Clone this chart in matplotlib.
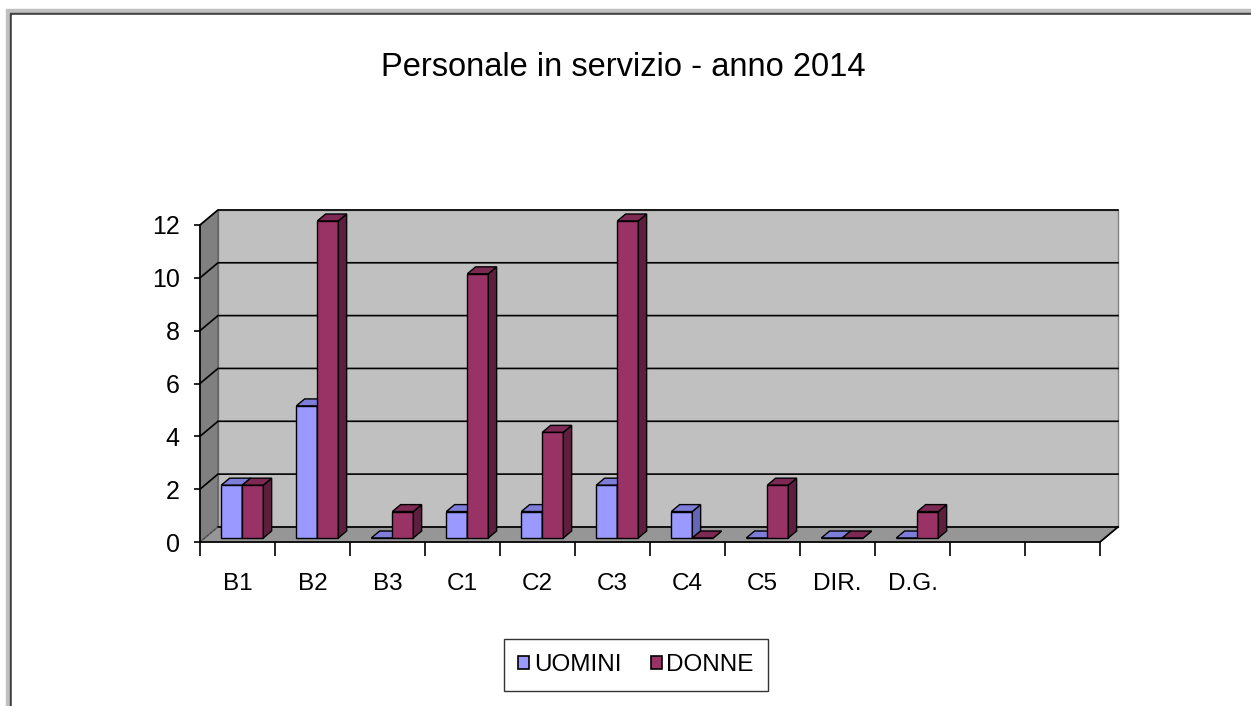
import matplotlib
matplotlib.use("Agg")
import matplotlib.pyplot as plt
from matplotlib.patches import Polygon, Rectangle, Patch
import numpy as np

plt.rcParams['font.family'] = ['Liberation Sans', 'DejaVu Sans']

categorie = ['B1', 'B2', 'B3', 'C1', 'C2', 'C3', 'C4', 'C5', 'DIR.', 'D.G.', '', '']
uomini = [2, 5, 0, 1, 1, 2, 1, 0, 0, 0, None, None]
donne = [2, 12, 1, 10, 4, 12, 0, 2, 0, 1, None, None]
y_ticks = [0, 2, 4, 6, 8, 10, 12]
titolo = 'Personale in servizio - anno 2014'

# colori: fronte, cima, lato
col_u = ('#9999FF', '#7E7EDA', '#6666B8')
col_d = ('#993366', '#7D2953', '#5E1F3F')

W, H = 1251, 706
fig = plt.figure(figsize=(W / 100, H / 100), dpi=100)

# cornice
fig.patches.append(Rectangle((6 / W, 0), 1, 1 - 9 / H, transform=fig.transFigure,
                             color='#C0C0C0', zorder=-10))
fig.patches.append(Rectangle((10 / W, 0), 1, 1 - 13 / H, transform=fig.transFigure,
                             color='#404040', zorder=-9))
fig.patches.append(Rectangle((12 / W, 0), 1, 1 - 15 / H, transform=fig.transFigure,
                             color='white', zorder=-8))

ax = fig.add_axes([200 / W, 1 - 542 / H, 900 / W, 317 / H])
ax.patch.set_visible(False)
n = len(categorie)
ymax = 12
ax.set_xlim(0, n)
ax.set_ylim(0, ymax)

# profondita' 3D (unita' dati)
dx, dy = 0.24, 0.57

def poly(pts, fc, ec='black', lw=1.0, z=1, ls='-'):
    ax.add_patch(Polygon(pts, closed=True, facecolor=fc, edgecolor=ec, linewidth=lw,
                         zorder=z, clip_on=False, linestyle=ls))

# pareti
poly([(dx, dy), (n + dx, dy), (n + dx, ymax + dy), (dx, ymax + dy)], '#C0C0C0', ec='#808080', z=0)
poly([(0, 0), (dx, dy), (dx, ymax + dy), (0, ymax)], '#808080', ec='#606060', z=0)
poly([(0, 0), (n, 0), (n + dx, dy), (dx, dy)], '#969696', ec='#606060', z=0)

for v in y_ticks:
    if v == 0:
        ax.plot([dx, n + dx], [dy, dy], color='black', lw=1.2, zorder=0.5, clip_on=False)
        ax.plot([0, dx], [0, dy], color='#404040', lw=0.8, ls=(0, (2, 2)), zorder=0.5, clip_on=False)
        continue
    ax.plot([0, dx, n + dx], [v, v + dy, v + dy], color='black', lw=1.2, zorder=0.5, clip_on=False)
ax.plot([n, n + dx], [0, dy], color='black', lw=1.2, zorder=0.5, clip_on=False)

# barre 3D
bw = 0.28
f0, f1 = 0.27, 0.73
bdx, bdy = (f1 - f0) * dx, (f1 - f0) * dy

def barra(x0, h, cols):
    x = x0 + f0 * dx
    y = f0 * dy
    poly([(x, y), (x + bw, y), (x + bw, y + h), (x, y + h)], cols[0], z=2)
    poly([(x + bw, y), (x + bw + bdx, y + bdy), (x + bw + bdx, y + h + bdy), (x + bw, y + h)], cols[2], z=2)
    poly([(x, y + h), (x + bw, y + h), (x + bw + bdx, y + h + bdy), (x + bdx, y + h + bdy)], cols[1], z=2)

for i in range(n):
    if uomini[i] is not None:
        barra(i + 0.5 - bw, uomini[i], col_u)
    if donne[i] is not None:
        barra(i + 0.5, donne[i], col_d)

# assi
for s in ['top', 'right']:
    ax.spines[s].set_visible(False)
ax.spines['left'].set_linewidth(1.2)
ax.spines['bottom'].set_linewidth(1.2)
ax.spines['left'].set_zorder(3)
ax.spines['bottom'].set_zorder(3)
ax.set_yticks(y_ticks)
ax.set_yticklabels([str(v) for v in y_ticks])
ax.tick_params(axis='y', direction='out', length=4.5, width=1.2, pad=10, labelsize=18)
ax.set_xticks(np.arange(n + 1))
ax.set_xticklabels([])
ax.tick_params(axis='x', which='major', direction='out', length=10, width=1.2)
ax.set_xticks(np.arange(n) + 0.5, minor=True)
ax.set_xticklabels(categorie, minor=True)
ax.tick_params(axis='x', which='minor', length=0, pad=22, labelsize=17.5)

fig.text(623 / W, 1 - 68 / H, titolo, ha='center', va='center', fontsize=23.5)

handles = [Patch(facecolor=col_u[0], edgecolor='black', linewidth=1.2, label='UOMINI'),
           Patch(facecolor=col_d[0], edgecolor='black', linewidth=1.2, label='DONNE')]
leg = fig.legend(handles=handles, loc='center', bbox_to_anchor=(636 / W, 1 - 665 / H),
                 ncol=2, fontsize=17.5, frameon=True, fancybox=False, handlelength=0.45,
                 handleheight=0.45, handletextpad=0.2, columnspacing=1.2, borderpad=0.6)
leg.get_frame().set_edgecolor('black')
leg.get_frame().set_linewidth(1.0)

fig.savefig('out.png', dpi=100)
